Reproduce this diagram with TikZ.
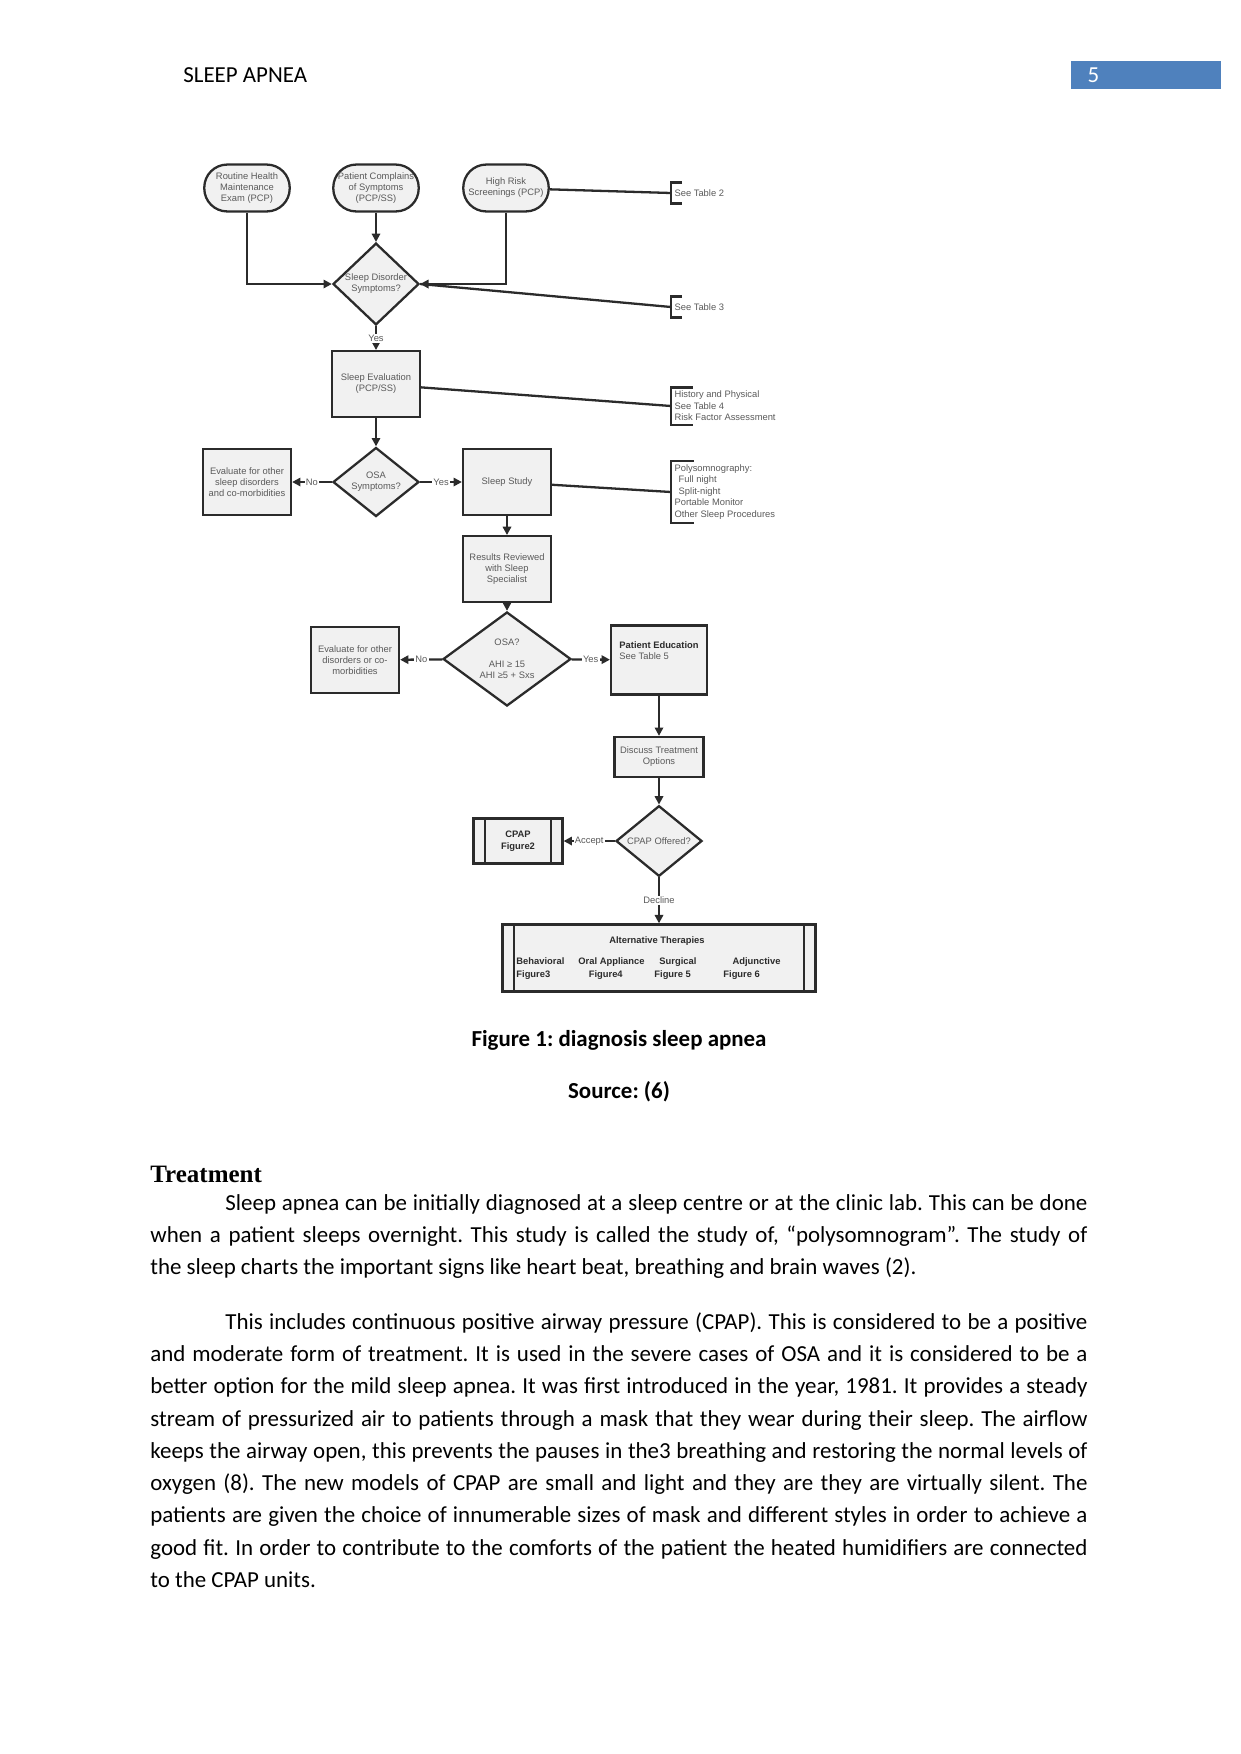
\documentclass[tikz,border=0pt]{standalone}
\usepackage{fontspec}
\setmainfont{Carlito}
\newfontfamily\flowfont{Liberation Sans}
\newfontfamily\headfont{Liberation Serif}
\usetikzlibrary{arrows.meta,shapes.geometric}
\definecolor{hdrblue}{HTML}{4F81BD}
\definecolor{lineclr}{HTML}{2B2B2B}
\definecolor{boxfill}{HTML}{F1F1F1}
\definecolor{boxtext}{HTML}{5A5A5A}
\frenchspacing

\begin{document}
\begin{tikzpicture}[x=0.48pt,y=-0.48pt,
  flow/.style={draw=lineclr,line width=1.1pt,fill=boxfill,align=center,inner sep=0pt,font=\flowfont\fontsize{4.5}{5.3}\selectfont,text=boxtext},
  term/.style={flow,rounded corners=11pt,minimum width=41pt,minimum height=22.5pt},
  proc/.style={flow,minimum width=42.2pt,minimum height=31.5pt},
  dec/.style={flow,diamond,minimum width=41.3pt,minimum height=30.5pt},
  pproc/.style={flow,minimum width=42.7pt,minimum height=21.6pt,text=lineclr,
    path picture={\draw[lineclr,line width=1.1pt] ([xshift=5.5pt]path picture bounding box.north west) -- ([xshift=5.5pt]path picture bounding box.south west) ([xshift=-5.5pt]path picture bounding box.north east) -- ([xshift=-5.5pt]path picture bounding box.south east);}},
  note/.style={anchor=west,align=left,inner xsep=1.5pt,inner ysep=1.6pt,font=\flowfont\fontsize{4.5}{5.5}\selectfont,text=boxtext},
  lbl/.style={fill=white,inner sep=0.6pt,font=\flowfont\fontsize{4.5}{5.3}\selectfont,text=boxtext},
  alttxt/.style={align=left,inner sep=0pt,font=\flowfont\bfseries\fontsize{4.5}{6.2}\selectfont,text=lineclr},
  arrow/.style={-{Triangle[length=4pt,width=4pt]},draw=lineclr,line width=1.1pt},
  link/.style={draw=lineclr,line width=1.1pt},
  para/.style={anchor=north west,inner sep=0pt,text width=449.8pt,align=justify,font=\fontsize{11}{15.5}\selectfont}
]
\useasboundingbox (0,0) rectangle (1241,1754);
\node[anchor=west,inner sep=0pt,font=\fontsize{11}{13}\selectfont] (hdr) at (183,75) {SLEEP APNEA};
\node[fill=hdrblue,text=white,minimum width=72pt,minimum height=12.5pt,text width=56pt,align=left,inner xsep=8pt,font=\fontsize{11}{13}\selectfont] (pg) at (1146,75) {5};

\node[term] (rh) at (247,188) {Routine Health\\Maintenance\\Exam (PCP)};
\node[term] (pc) at (376,188) {Patient Complains\\of Symptoms\\(PCP/SS)};
\node[term] (hr) at (506,188) {High Risk\\Screenings (PCP)};
\node[dec] (sd) at (376,284) {Sleep Disorder\\Symptoms?};
\node[proc] (se) at (376,384) {Sleep Evaluation\\(PCP/SS)};
\node[dec] (os) at (376,482) {OSA\\Symptoms?};
\node[proc] (ev1) at (247,482) {Evaluate for other\\sleep disorders\\and co-morbidities};
\node[proc] (ss) at (507,482) {Sleep Study};
\node[proc] (rr) at (507,569) {Results Reviewed\\with Sleep\\Specialist};
\node[dec,minimum width=61.4pt,minimum height=38.9pt] (osa) at (507,659) {OSA?\\[5pt]AHI ≥ 15\\AHI ≥5 + Sxs};
\node[proc] (ev2) at (355,660) {Evaluate for other\\disorders or co-\\morbidities};
\node[proc,minimum width=46pt,minimum height=33pt,align=left] (pe) at (659,660) {\textbf{\color{lineclr}Patient Education}\\See Table 5\\[4pt]};
\node[proc,minimum width=42.7pt,minimum height=19.2pt] (dt) at (659,757) {Discuss Treatment\\Options};
\node[dec] (co) at (659,841) {CPAP Offered?};
\node[pproc,font=\flowfont\bfseries\fontsize{4.5}{5.5}\selectfont] (cp) at (518,841) {CPAP\\Figure2};
\node[pproc,minimum width=150.2pt,minimum height=32.2pt] (alt) at (659,958) {};
\node[alttxt] (altt) at (657,941) {Alternative Therapies};
\node[alttxt,anchor=west] (beh) at (516,969) {Behavioral\\Figure3};
\node[alttxt,anchor=west] (oral) at (578,969) {Oral Appliance\\\hspace*{5pt}Figure4};
\node[alttxt,anchor=west] (surg) at (654,969) {\hspace*{2.4pt}Surgical\\Figure 5};
\node[alttxt,anchor=west] (adj) at (723,969) {\hspace*{4.4pt}Adjunctive\\Figure 6};

\node[note,minimum height=9.6pt] (t2) at (671,193) {See Table 2};
\node[note,minimum height=9.6pt] (t3) at (671,307) {See Table 3};
\node[note] (t4) at (671,406) {History and Physical\\See Table 4\\Risk Factor Assessment};
\node[note] (ps) at (671,492) {Polysomnography:\\\hspace*{2pt}Full night\\\hspace*{2pt}Split-night\\Portable Monitor\\Other Sleep Procedures};

\draw[arrow] (rh) |- (sd);
\draw[arrow] (pc) -- (sd);
\draw[arrow] (hr) |- (sd);
\draw[arrow] (sd) -- node[lbl]{Yes} (se);
\draw[arrow] (se) -- (os);
\draw[arrow] (os) -- node[lbl]{No} (ev1);
\draw[arrow] (os) -- node[lbl]{Yes} (ss);
\draw[arrow] (ss) -- (rr);
\draw[arrow] (rr) -- (osa);
\draw[arrow] (osa) -- node[lbl]{No} (ev2);
\draw[arrow] (osa) -- node[lbl]{Yes} (pe);
\draw[arrow] (pe) -- (dt);
\draw[arrow] (dt) -- (co);
\draw[arrow] (co) -- node[lbl]{Accept} (cp);
\draw[arrow] (co) -- node[lbl]{Decline} (alt);

\draw[link] (hr) -- (t2.west);
\draw[link] (sd.east) -- (t3.west);
\draw[link] (se) -- (t4.west);
\draw[link] (ss) -- (ps.west);
\draw[link] ([xshift=5.3pt]t2.north west) -- (t2.north west) -- (t2.south west) -- ([xshift=5.3pt]t2.south west);
\draw[link] ([xshift=5.3pt]t3.north west) -- (t3.north west) -- (t3.south west) -- ([xshift=5.3pt]t3.south west);
\draw[link] ([xshift=10.5pt]t4.north west) -- (t4.north west) -- (t4.south west) -- ([xshift=10.5pt]t4.south west);
\draw[link] ([xshift=11pt]ps.north west) -- (ps.north west) -- (ps.south west) -- ([xshift=11pt]ps.south west);

\node[font=\bfseries\fontsize{11}{13}\selectfont] (cap) at (619,1040) {Figure 1: diagnosis sleep apnea};
\node[font=\bfseries\fontsize{11}{13}\selectfont] (src) at (619,1092) {Source: (6)};
\node[anchor=west,inner sep=0pt,font=\headfont\bfseries\fontsize{12}{14}\selectfont] (trt) at (150,1174) {Treatment};
\node[para] (p1) at (150,1194) {\hyphenpenalty=10000\hspace*{36pt}Sleep apnea can be initially diagnosed at a sleep centre or at the clinic lab. This can be done\linebreak
when a patient sleeps overnight. This study is called the study of, “polysomnogram”. The study of\linebreak
the sleep charts the important signs like heart beat, breathing and brain waves (2).};
\node[para] (p2) at (150,1312) {\hyphenpenalty=10000\hspace*{36pt}This includes continuous positive airway pressure (CPAP). This is considered to be a positive\linebreak
and moderate form of treatment. It is used in the severe cases of OSA and it is considered to be a\linebreak
better option for the mild sleep apnea. It was first introduced in the year, 1981. It provides a steady\linebreak
stream of pressurized air to patients through a mask that they wear during their sleep. The airflow\linebreak
keeps the airway open, this prevents the pauses in the3 breathing and restoring the normal levels of\linebreak
oxygen (8). The new models of CPAP are small and light and they are they are virtually silent. The\linebreak
patients are given the choice of innumerable sizes of mask and different styles in order to achieve a\linebreak
good fit. In order to contribute to the comforts of the patient the heated humidifiers are connected\linebreak
to the CPAP units.};
\end{tikzpicture}
\end{document}
